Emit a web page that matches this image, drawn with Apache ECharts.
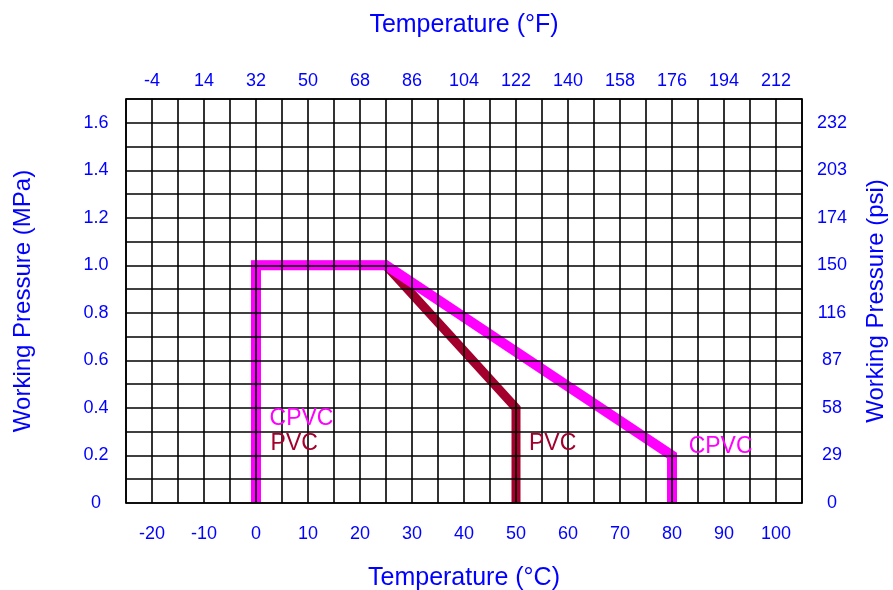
<!DOCTYPE html>
<html>
<head>
<meta charset="utf-8">
<script src="https://cdn.jsdelivr.net/npm/echarts@6/dist/echarts.min.js"></script>
<style>
  html, body { margin: 0; padding: 0; background: #fff; }
  #chart { width: 893px; height: 590px; }
</style>
</head>
<body>
<div id="chart"></div>
<script>
// tick labels
var celsiusTicks = [-20, -10, 0, 10, 20, 30, 40, 50, 60, 70, 80, 90, 100]
var fahrenheitTicks = [-4, 14, 32, 50, 68, 86, 104, 122, 140, 158, 176, 194, 212]
var mpaTicks = [0, 0.2, 0.4, 0.6, 0.8, 1.0, 1.2, 1.4, 1.6]
var psiTicks = [0, 29, 58, 87, 116, 150, 174, 203, 232]

// curves (°C, MPa)
var pvcTemp = [0, 0, 25, 50, 50]
var pvcPress = [0, 1.0, 1.0, 0.4, 0]
var cpvcTemp = [0, 0, 25, 80, 80]
var cpvcPress = [0, 1.0, 1.0, 0.2, 0]

// label anchors
var pvcLabelTemp = [2.8, 52.5]
var pvcLabelPress = [0.25, 0.25]
var cpvcLabelTemp = [2.6, 83.2]
var cpvcLabelPress = [0.355, 0.235]

var blue = '#0000ff'
var font = 'Liberation Sans, Arial, sans-serif'

function pairs(xs, ys) {
  return xs.map(function (x, i) { return [x, ys[i]] })
}

function labelPoints(xs, ys, text) {
  return xs.map(function (x, i) {
    return { coord: [x, ys[i]], value: text }
  })
}

var chart = echarts.init(document.getElementById('chart'))

var frame = { show: true, onZero: false, lineStyle: { color: '#000', width: 1.6 } }
var gridLine = { show: true, lineStyle: { color: '#000', width: 1.6 } }
var xNameStyle = { color: blue, fontSize: 25, fontFamily: font }
var yNameStyle = { color: blue, fontSize: 24, fontFamily: font }

chart.setOption({
  animation: false,
  grid: { left: 126, right: 91, top: 99, bottom: 87, outerBoundsMode: 'none', containLabel: false },
  xAxis: [{
    type: 'value',
    position: 'bottom',
    min: -25, max: 105, interval: 5,
    z: 5,
    name: 'Temperature (°C)',
    nameLocation: 'middle',
    nameGap: 63,
    nameTextStyle: xNameStyle,
    axisLine: frame,
    axisTick: { show: false },
    splitLine: gridLine,
    axisLabel: {
      color: blue, fontSize: 18, fontFamily: font, margin: 22,
      formatter: function (v) {
        var i = celsiusTicks.indexOf(Math.round(v))
        return i >= 0 && Math.abs(v - celsiusTicks[i]) < 1e-6 ? String(celsiusTicks[i]) : ''
      }
    }
  }, {
    type: 'value',
    position: 'top',
    min: -25, max: 105, interval: 5,
    z: 5,
    name: 'Temperature (°F)',
    nameLocation: 'middle',
    nameGap: 61,
    nameTextStyle: xNameStyle,
    axisLine: frame,
    axisTick: { show: false },
    splitLine: { show: false },
    axisLabel: {
      color: blue, fontSize: 18, fontFamily: font, margin: 9,
      formatter: function (v) {
        var i = celsiusTicks.indexOf(Math.round(v))
        return i >= 0 && Math.abs(v - celsiusTicks[i]) < 1e-6 ? String(fahrenheitTicks[i]) : ''
      }
    }
  }],
  yAxis: [{
    type: 'value',
    position: 'left',
    min: 0, max: 1.7, interval: 0.1,
    z: 5,
    name: 'Working Pressure (MPa)',
    nameLocation: 'middle',
    nameRotate: 90,
    nameGap: 91,
    nameTextStyle: yNameStyle,
    axisLine: frame,
    axisTick: { show: false },
    splitLine: gridLine,
    axisLabel: {
      color: blue, fontSize: 18, fontFamily: font, margin: 30, align: 'center',
      formatter: function (v) {
        var i = Math.round(v * 5)
        if (Math.abs(v * 5 - i) > 1e-6 || i >= mpaTicks.length) return ''
        return mpaTicks[i] === 0 ? '0' : mpaTicks[i].toFixed(1)
      }
    }
  }, {
    type: 'value',
    position: 'right',
    min: 0, max: 1.7, interval: 0.1,
    z: 5,
    name: 'Working Pressure (psi)',
    nameLocation: 'middle',
    nameRotate: 90,
    nameGap: 62,
    nameTextStyle: yNameStyle,
    axisLine: frame,
    axisTick: { show: false },
    splitLine: { show: false },
    axisLabel: {
      color: blue, fontSize: 18, fontFamily: font, margin: 30, align: 'center',
      formatter: function (v) {
        var i = Math.round(v * 5)
        if (Math.abs(v * 5 - i) > 1e-6 || i >= psiTicks.length) return ''
        return String(psiTicks[i])
      }
    }
  }],
  series: [{
    name: 'PVC',
    type: 'line',
    xAxisIndex: 0, yAxisIndex: 0,
    data: pairs(pvcTemp, pvcPress),
    symbol: 'none',
    lineStyle: { color: '#a3002d', width: 9, join: 'miter' },
    z: 2,
    markPoint: {
      symbol: 'circle', symbolSize: 0,
      label: {
        show: true, position: 'inside', align: 'left', verticalAlign: 'middle',
        color: '#a3002d', fontSize: 23, fontFamily: font,
        formatter: '{c}'
      },
      data: labelPoints(pvcLabelTemp, pvcLabelPress, 'PVC')
    }
  }, {
    name: 'CPVC',
    type: 'line',
    xAxisIndex: 0, yAxisIndex: 0,
    data: pairs(cpvcTemp, cpvcPress),
    symbol: 'none',
    lineStyle: { color: '#ff00ff', width: 10, join: 'miter' },
    z: 3,
    markPoint: {
      symbol: 'circle', symbolSize: 0,
      label: {
        show: true, position: 'inside', align: 'left', verticalAlign: 'middle',
        color: '#ff00ff', fontSize: 23, fontFamily: font,
        formatter: '{c}'
      },
      data: labelPoints(cpvcLabelTemp, cpvcLabelPress, 'CPVC')
    }
  }]
})
</script>
</body>
</html>
